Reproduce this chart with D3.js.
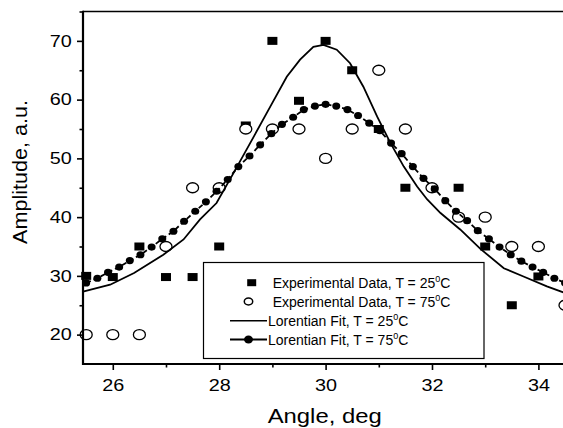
<!DOCTYPE html>
<html>
<head>
<meta charset="utf-8">
<script src="https://cdn.jsdelivr.net/npm/d3@7"></script>
<style>
  html, body { margin: 0; padding: 0; background: #fff; }
  svg { display: block; font-family: "Liberation Sans", Arial, Helvetica, sans-serif; }
</style>
</head>
<body>
<svg id="chart" width="563" height="428"></svg>
<script>
// ---- Data ----
const exp25X = [25.5, 26, 26.5, 27, 27.5, 28, 28.5, 29, 29.5, 30, 30.5, 31, 31.5, 32.5, 33, 33.5, 34];
const exp25Y = [30, 29.8, 35, 29.8, 29.8, 35, 55.6, 70, 59.8, 70, 65, 55, 45, 45, 35, 25, 29.9];

const exp75X = [25.5, 26, 26.5, 27, 27.5, 28, 28.5, 29, 29.5, 30, 30.5, 31, 31.5, 32, 32.5, 33, 33.5, 34, 34.5];
const exp75Y = [20, 20, 20, 35, 45, 45, 55, 55, 55, 50, 55, 65, 55, 45, 40, 40, 35, 35, 25];

const fit25X = [25.44, 25.95, 26.4, 26.95, 27.33, 27.64, 27.95, 28.25, 28.65, 28.96, 29.27, 29.52, 29.77, 29.96,
                30.21, 30.46, 30.71, 30.97, 31.22, 31.47, 31.72, 31.91, 32.16, 32.53, 32.91, 33.35, 33.72, 34.16, 34.5];
const fit25Y = [27.3, 28.5, 30.5, 33.6, 36.2, 39.6, 42.4, 47.2, 53.7, 58.8, 63.9, 66.8, 69.0, 69.3,
                68.5, 66.2, 62.2, 57.1, 52.6, 48.6, 45.2, 43.0, 40.7, 37.9, 34.6, 31.3, 29.9, 28.2, 27.1];

const fit75X = [25.50, 25.71, 25.91, 26.12, 26.32, 26.52, 26.73, 26.93, 27.14, 27.34, 27.55, 27.75, 27.95, 28.16,
                28.36, 28.57, 28.77, 28.98, 29.18, 29.39, 29.59, 29.80, 30.00, 30.20, 30.41, 30.61, 30.82, 31.02,
                31.23, 31.43, 31.64, 31.84, 32.05, 32.25, 32.45, 32.66, 32.86, 33.07, 33.27, 33.48, 33.68, 33.89,
                34.09, 34.30, 34.50];
const fit75Y = [28.8, 29.6, 30.6, 31.5, 32.6, 33.6, 34.9, 36.3, 37.6, 39.3, 41.0, 42.6, 44.4, 46.4,
                48.6, 50.4, 52.3, 54.2, 55.8, 57.0, 58.3, 58.9, 59.2, 58.9, 58.3, 57.3, 56.0, 54.7,
                52.6, 50.8, 48.6, 46.6, 44.8, 42.8, 41.0, 39.4, 37.7, 36.3, 34.9, 33.6, 32.5, 31.5,
                30.6, 29.6, 28.8];

const xMajorTicks = [26, 28, 30, 32, 34];
const xMinorTicks = [27, 29, 31, 33];
const yMajorTicks = [20, 30, 40, 50, 60, 70];
const yMinorTicks = [25, 35, 45, 55, 65, 75];

const xTitle = "Angle, deg";
const yTitle = "Amplitude, a.u.";
const legendLabels = [
  ["Experimental Data, T = 25", "0", "C"],
  ["Experimental Data, T = 75", "0", "C"],
  ["Lorentian Fit, T = 25", "0", "C"],
  ["Lorentian Fit, T = 75", "0", "C"]
];

// ---- Layout ----
const svg = d3.select("#chart");
const pLeft = 83, pTop = 11.5, pBottom = 364, pRight = 565;

const x = d3.scaleLinear().domain([25.44, 34.5]).range([pLeft, pRight]);
const y = d3.scaleLinear().domain([15, 75]).range([pBottom, pTop]);

// Top border
svg.append("line").attr("x1", pLeft).attr("x2", 563).attr("y1", pTop).attr("y2", pTop)
  .attr("stroke", "#000").attr("stroke-width", 1.6);

// ---- Experimental points ----
svg.append("g").selectAll("rect").data(exp25X.map((v, i) => [v, exp25Y[i]])).join("rect")
  .attr("x", d => x(d[0]) - 5).attr("y", d => y(d[1]) - 4)
  .attr("width", 10).attr("height", 8).attr("fill", "#000");

svg.append("g").selectAll("ellipse").data(exp75X.map((v, i) => [v, exp75Y[i]])).join("ellipse")
  .attr("cx", d => x(d[0])).attr("cy", d => y(d[1]))
  .attr("rx", 6).attr("ry", 5).attr("fill", "#fff")
  .attr("stroke", "#000").attr("stroke-width", 1.3);

// ---- Fit lines ----
const pts25 = fit25X.map((v, i) => [v, fit25Y[i]]);
const pts75 = fit75X.map((v, i) => [v, fit75Y[i]]);
const line = d3.line().x(d => x(d[0])).y(d => y(d[1])).curve(d3.curveLinear);

svg.append("path").datum(pts25).attr("d", line)
  .attr("fill", "none").attr("stroke", "#000").attr("stroke-width", 1.8);

svg.append("path").datum(pts75).attr("d", line)
  .attr("fill", "none").attr("stroke", "#000").attr("stroke-width", 1.8)
  .attr("stroke-dasharray", "5,3");

svg.append("g").selectAll("ellipse").data(pts75).join("ellipse")
  .attr("cx", d => x(d[0])).attr("cy", d => y(d[1]))
  .attr("rx", 4).attr("ry", 3.6).attr("fill", "#000");

// ---- Axes ----
function styleAxis(g) {
  g.select(".domain").remove();
  g.selectAll(".tick line").attr("stroke", "#000").attr("stroke-width", 1.6);
  g.selectAll(".tick text").attr("fill", "#000")
    .style("font-size", "16px")
    .attr("textLength", 22).attr("lengthAdjust", "spacingAndGlyphs");
}

svg.append("g").attr("transform", `translate(0,${pBottom})`)
  .call(d3.axisBottom(x).tickValues(xMajorTicks).tickSize(6).tickPadding(9.5).tickFormat(d3.format("d")))
  .call(styleAxis);
svg.append("g").attr("transform", `translate(0,${pBottom})`)
  .call(d3.axisBottom(x).tickValues(xMinorTicks).tickSize(3.5).tickFormat(""))
  .call(styleAxis);

svg.append("g").attr("transform", `translate(${pLeft},0)`)
  .call(d3.axisLeft(y).tickValues(yMajorTicks).tickSize(6).tickPadding(5.3).tickFormat(d3.format("d")))
  .call(styleAxis);
svg.append("g").attr("transform", `translate(${pLeft},0)`)
  .call(d3.axisLeft(y).tickValues(yMinorTicks).tickSize(3.5).tickFormat(""))
  .call(styleAxis);

// Axis lines
svg.append("line").attr("x1", pLeft).attr("x2", pLeft).attr("y1", pTop - 0.8).attr("y2", pBottom + 1)
  .attr("stroke", "#000").attr("stroke-width", 2.2);
svg.append("line").attr("x1", pLeft - 1).attr("x2", 563).attr("y1", pBottom).attr("y2", pBottom)
  .attr("stroke", "#000").attr("stroke-width", 2.2);

// Axis titles
svg.append("text").attr("x", 324.7).attr("y", 423)
  .attr("text-anchor", "middle").style("font-size", "20px")
  .attr("textLength", 114).attr("lengthAdjust", "spacingAndGlyphs")
  .text(xTitle);

svg.append("text").attr("transform", "translate(27.3,172) rotate(-90)")
  .attr("text-anchor", "middle").style("font-size", "20px")
  .attr("textLength", 144).attr("lengthAdjust", "spacingAndGlyphs")
  .text(yTitle);

// ---- Legend ----
const lg = svg.append("g");
lg.append("rect").attr("x", 203.5).attr("y", 262.5).attr("width", 280.5).attr("height", 96)
  .attr("fill", "#fff").attr("stroke", "#000").attr("stroke-width", 1.2);

const rowY = [282.7, 301.5, 320.8, 339.5];
const textX = [272.7, 272.7, 268, 268];

lg.append("rect").attr("x", 251.7 - 4.5).attr("y", rowY[0] - 3.5).attr("width", 9).attr("height", 7).attr("fill", "#000");
lg.append("ellipse").attr("cx", 248.5).attr("cy", rowY[1]).attr("rx", 4.2).attr("ry", 3.4)
  .attr("fill", "none").attr("stroke", "#000").attr("stroke-width", 1.5);
lg.append("line").attr("x1", 230).attr("x2", 267).attr("y1", rowY[2]).attr("y2", rowY[2])
  .attr("stroke", "#000").attr("stroke-width", 1.6);
lg.append("line").attr("x1", 230).attr("x2", 267).attr("y1", rowY[3]).attr("y2", rowY[3])
  .attr("stroke", "#000").attr("stroke-width", 2);
lg.append("ellipse").attr("cx", 248.5).attr("cy", rowY[3]).attr("rx", 4.5).attr("ry", 4).attr("fill", "#000");

legendLabels.forEach((parts, i) => {
  const t = lg.append("text").attr("x", textX[i]).attr("y", rowY[i] + 5)
    .style("font-size", "14px").attr("fill", "#000");
  t.append("tspan").text(parts[0]);
  t.append("tspan").attr("dy", -6).style("font-size", "9px").text(parts[1]);
  t.append("tspan").attr("dy", 6).text(parts[2]);
});
</script>
</body>
</html>
